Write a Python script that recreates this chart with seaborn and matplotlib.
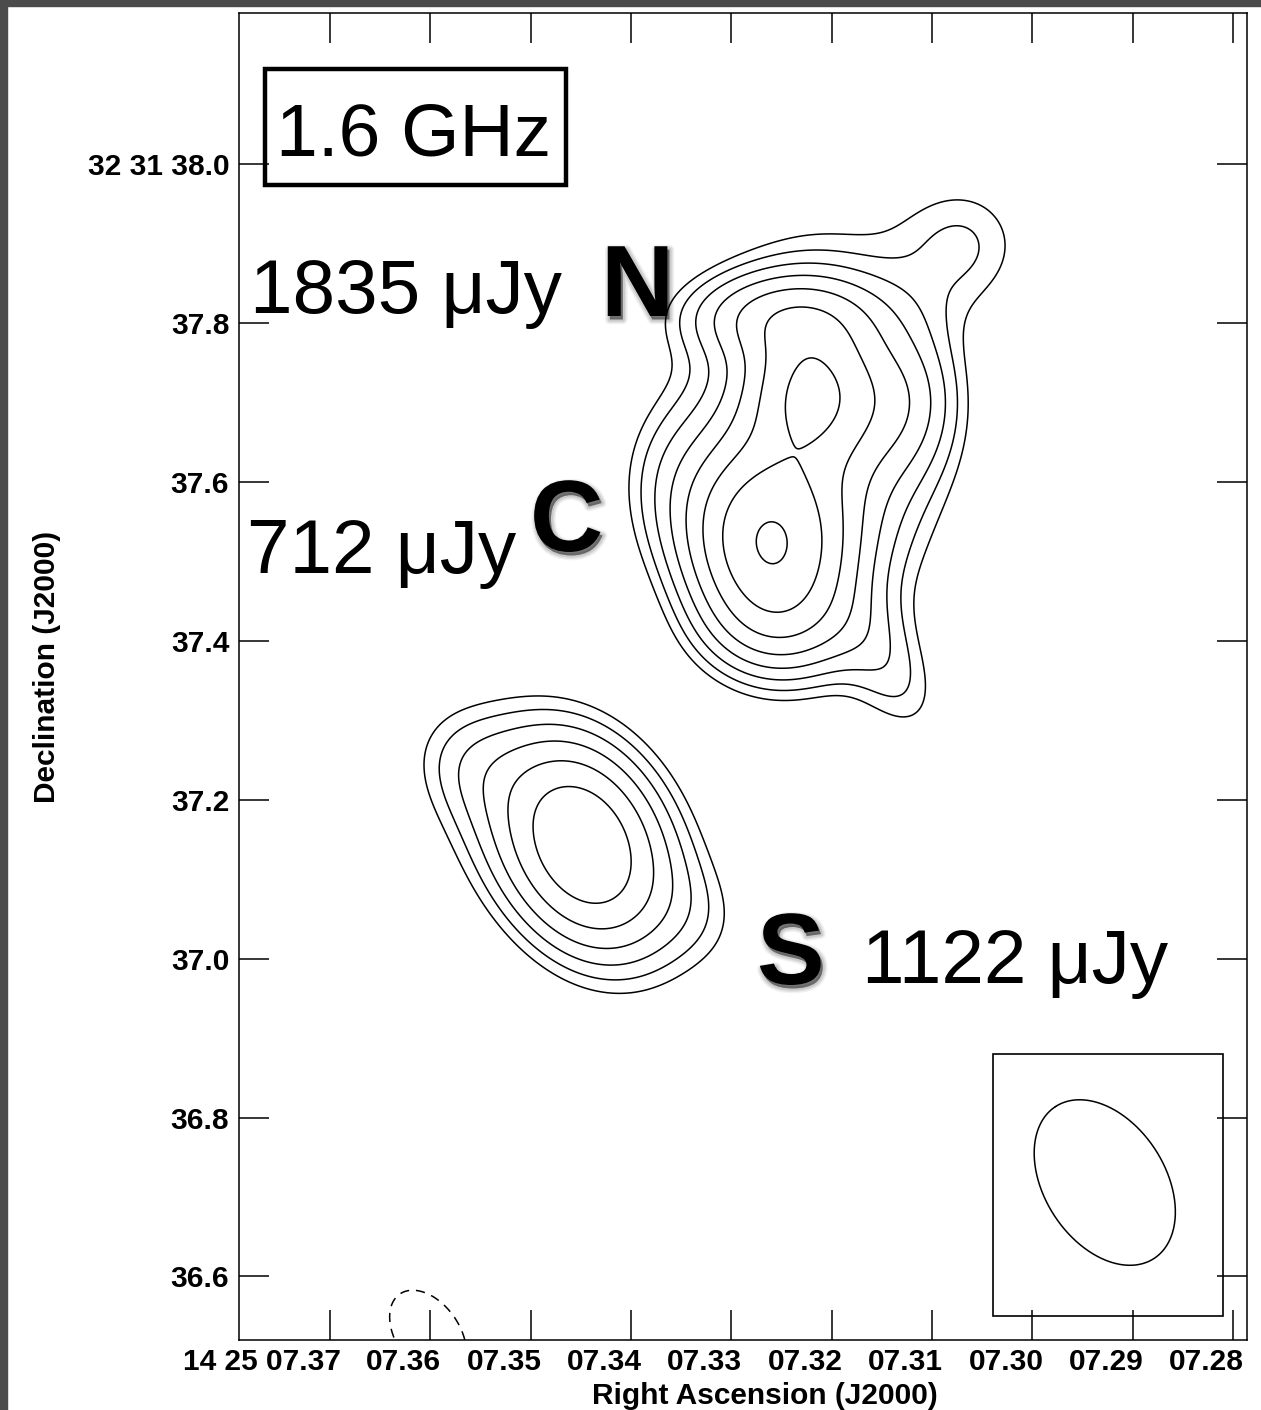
import numpy as np
import matplotlib
matplotlib.use("Agg")
import matplotlib.pyplot as plt
import seaborn as sns
from matplotlib.patches import Rectangle
from matplotlib import patheffects as pe
from matplotlib.transforms import ScaledTranslation

# ---------------------------------------------------------------------------
# Map frame: RA in seconds past 14h25m, Dec in arcsec past +32d31'
# ---------------------------------------------------------------------------
ra_ticks = [7.37, 7.36, 7.35, 7.34, 7.33, 7.32, 7.31, 7.30, 7.29, 7.28]
ra_tick_labels = ["14 25 07.37", "07.36", "07.35", "07.34", "07.33",
                  "07.32", "07.31", "07.30", "07.29", "07.28"]
dec_ticks = [38.0, 37.8, 37.6, 37.4, 37.2, 37.0, 36.8, 36.6]
dec_tick_labels = ["32 31 38.0", "37.8", "37.6", "37.4", "37.2",
                   "37.0", "36.8", "36.6"]
ra_limits = (7.37907, 7.27861)
dec_limits = (36.520, 38.190)
dec_ref_deg = 32.0 + 31.0 / 60.0 + 37.5 / 3600.0

# ---------------------------------------------------------------------------
# Gaussian components of the 1.6 GHz image (peak in uJy/beam, FWHM in arcsec,
# position angle in degrees east of north)
# ---------------------------------------------------------------------------
comp_source = ["C", "N", "N", "N", "N", "N", "N", "C", "C",
               "S", "S", "S", "S", "noise"]
comp_ra = [7.32634, 7.32196, 7.32166, 7.32495, 7.31269, 7.30671, 7.31418,
           7.33611, 7.32465, 7.34458, 7.34588, 7.35625, 7.33312, 7.36023]
comp_dec = [37.5171, 37.7134, 37.6530, 37.8091, 37.7034, 37.9010, 37.3611,
            37.6027, 37.4139, 37.1434, 37.1459, 37.2440, 37.0552, 36.5267]
comp_peak = [1110, 600, 480, 360, 216, 156, 156, 120, 180,
             624, 320, 90, 50, -180]
comp_bmaj = [0.184, 0.133, 0.356, 0.193, 0.148, 0.142, 0.163, 0.178, 0.163,
             0.207, 0.300, 0.124, 0.120, 0.163]
comp_bmin = [0.148, 0.119, 0.237, 0.089, 0.104, 0.142, 0.089, 0.119, 0.104,
             0.148, 0.190, 0.107, 0.100, 0.104]
comp_pa = [10, 0, -5, 90, 0, 0, 30, 0, 90,
           20, 45, 45, 40, 35]

# contour levels: multiples of the image rms
rms = 40.0
level_mult = [-3, 3, 3 * 2 ** 0.5, 6, 6 * 2 ** 0.5, 12, 12 * 2 ** 0.5,
              24, 24 * 2 ** 0.5]

# restoring beam (FWHM ellipse) and the frame drawn round it
beam_ra, beam_dec = 7.292785, 36.71822
beam_maj, beam_min, beam_pa = 0.228, 0.152, 33.0
beam_box_ra = (7.30389, 7.28096)
beam_box_dec = (36.5506, 36.8799)

# integrated flux densities of the three components
source_names = ["N", "C", "S"]
source_flux = [1835, 712, 1122]

# ---------------------------------------------------------------------------
sns.set_theme(style="ticks")
plt.rcParams["font.family"] = ["Liberation Sans", "DejaVu Sans"]
plt.rcParams.update({"text.color": "black", "axes.labelcolor": "black",
                     "xtick.color": "black", "ytick.color": "black",
                     "axes.edgecolor": "black", "axes.linewidth": 1.1})

W, H = 1261, 1410
fig = plt.figure(figsize=(W / 100, H / 100), dpi=100)
fig.patch.set_facecolor("white")


def fx(px):
    return px / W


def fy(py):
    return 1 - py / H


ax = fig.add_axes([fx(239), fy(1340), fx(1247) - fx(239), fy(13.3) - fy(1340)])
ax.set_facecolor("white")

cosd = np.cos(np.deg2rad(dec_ref_deg))


def brightness(ra, dec):
    img = np.zeros_like(ra)
    for r0, d0, pk, bmaj, bmin, pa in zip(comp_ra, comp_dec, comp_peak,
                                          comp_bmaj, comp_bmin, comp_pa):
        east = (ra - r0) * 15.0 * cosd
        north = dec - d0
        t = np.deg2rad(pa)
        a = east * np.sin(t) + north * np.cos(t)
        b = east * np.cos(t) - north * np.sin(t)
        sa, sb = bmaj / 2.3548, bmin / 2.3548
        img += pk * np.exp(-0.5 * ((a / sa) ** 2 + (b / sb) ** 2))
    return img


ra_grid = np.linspace(ra_limits[1], ra_limits[0], 700)
dec_grid = np.linspace(dec_limits[0], dec_limits[1], 900)
RA, DEC = np.meshgrid(ra_grid, dec_grid)
img = brightness(RA, DEC)

levels = np.array(level_mult) * rms
pos = levels[levels > 0]
neg = levels[levels < 0]
ax.contour(RA, DEC, img, levels=pos, colors="black", linewidths=1.1)
ax.contour(RA, DEC, img, levels=neg, colors="black", linewidths=1.1,
           linestyles=[(0, (6, 4.5))])

# beam ellipse
tt = np.linspace(0, 2 * np.pi, 300)
ta = np.deg2rad(beam_pa)
ea = 0.5 * beam_maj * np.cos(tt)
eb = 0.5 * beam_min * np.sin(tt)
e_east = ea * np.sin(ta) + eb * np.cos(ta)
e_north = ea * np.cos(ta) - eb * np.sin(ta)
ax.plot(beam_ra + e_east / (15.0 * cosd), beam_dec + e_north,
        color="black", lw=1.1)
ax.add_patch(Rectangle((beam_box_ra[1], beam_box_dec[0]),
                       beam_box_ra[0] - beam_box_ra[1],
                       beam_box_dec[1] - beam_box_dec[0],
                       fill=False, ec="black", lw=1.2))

ax.set_xlim(*ra_limits)
ax.set_ylim(*dec_limits)
ax.set_xticks(ra_ticks)
ax.set_xticklabels(ra_tick_labels, ha="right")
ax.set_yticks(dec_ticks)
ax.set_yticklabels(dec_tick_labels)
ax.tick_params(direction="in", length=21.6, width=1.1, top=True, right=True,
               labelsize=21.5, colors="black")
ax.tick_params(axis="x", pad=6)
ax.tick_params(axis="y", pad=7)
for lab in ax.get_xticklabels() + ax.get_yticklabels():
    lab.set_fontweight("bold")
shift = ScaledTranslation(11 / 100, 0, fig.dpi_scale_trans)
for lab in ax.get_xticklabels():
    lab.set_transform(lab.get_transform() + shift)
for s in ax.spines.values():
    s.set_color("black")
    s.set_linewidth(1.1)

fig.text(fx(765), fy(1404), "Right Ascension (J2000)", ha="center",
         va="baseline", fontsize=21.5, fontweight="bold")
fig.text(fx(47), fy(667), "Declination (J2000)", ha="center", va="center",
         rotation=90, fontsize=21.5, fontweight="bold")

# frequency tag
fig.patches.append(Rectangle((fx(264.5), fy(184.5)), fx(565.5) - fx(264.5),
                             fy(69.5) - fy(184.5), transform=fig.transFigure,
                             fill=False, ec="black", lw=3.2, zorder=5))
fig.text(fx(414), fy(155), "1.6 GHz", ha="center", va="baseline", fontsize=54)

# component names and flux densities
shadow = [pe.SimplePatchShadow(offset=(1.5, -2.5), shadow_rgbFace="black",
                               alpha=0.35)]
for lw, al in [(7, 0.05), (5, 0.07), (3, 0.09)]:
    shadow.append(pe.Stroke(linewidth=lw, foreground="black", alpha=al,
                            offset=(1.5, -2.5)))
shadow.append(pe.Normal())

flux = dict(zip(source_names, source_flux))
name_pos = {"N": (601, 316), "C": (530, 551), "S": (757, 984)}
flux_pos = {"N": (250, 313), "C": (247, 573), "S": (862, 983)}
for name in source_names:
    x, y = name_pos[name]
    fig.text(fx(x), fy(y), name, ha="left", va="baseline", fontsize=73,
             fontweight="bold", path_effects=shadow)
    x, y = flux_pos[name]
    fig.text(fx(x), fy(y), f"{flux[name]} \u03bcJy", ha="left",
             va="baseline", fontsize=55)

# screen frame along the top and left edges
fig.patches.append(Rectangle((0, fy(6)), 1, fy(0) - fy(6),
                             transform=fig.transFigure, color="#4b4b4b",
                             zorder=10))
fig.patches.append(Rectangle((0, 0), fx(7), 1, transform=fig.transFigure,
                             color="#4b4b4b", zorder=10))

fig.savefig("out.png", dpi=100, facecolor="white")
